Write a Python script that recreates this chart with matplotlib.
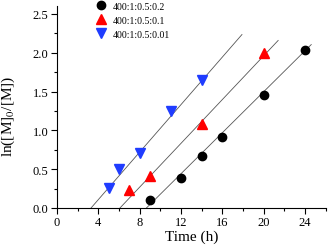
import numpy as np
import matplotlib
matplotlib.use("Agg")
import matplotlib.pyplot as plt
from matplotlib.ticker import MultipleLocator

plt.rcParams['font.family'] = ['Liberation Serif', 'DejaVu Serif']
plt.rcParams['mathtext.fontset'] = 'stix'

# data
labels = ['400:1:0.5:0.2', '400:1:0.5:0.1', '400:1:0.5:0.01']
t_black = [9, 12, 14, 16, 20, 24]
y_black = [0.10, 0.38, 0.67, 0.91, 1.45, 2.03]
t_red = [7, 9, 14, 20]
y_red = [0.23, 0.41, 1.08, 2.00]
t_blue = [5, 6, 8, 11, 14]
y_blue = [0.26, 0.50, 0.71, 1.25, 1.65]

# fitted lines (slope, intercept, x range)
fit_black = (0.132, -1.143, 8.66, 24.6)
fit_red = (0.141, -0.860, 6.10, 21.4)
fit_blue = (0.153, -0.505, 3.30, 17.9)

fig = plt.figure(figsize=(3.29, 2.53), dpi=100)
ax = fig.add_axes([0.173, 0.174, 0.817, 0.798])

for slope, icpt, x0, x1 in (fit_black, fit_red, fit_blue):
    xx = np.array([x0, x1])
    ax.plot(xx, slope * xx + icpt, color='#555555', lw=0.6, zorder=1)

ax.plot(t_black, y_black, 'o', color='black', ms=6, ls='none', label=labels[0], zorder=3)
ax.plot(t_red, y_red, '^', color='#ff0000', ms=7, ls='none', label=labels[1], zorder=3)
ax.plot(t_blue, y_blue, 'v', color='#1f3cff', ms=7, ls='none', label=labels[2], zorder=3)

ax.set_xlim(0, 26)
ax.set_ylim(0, 2.6)
ax.xaxis.set_minor_locator(MultipleLocator(2))
ax.yaxis.set_minor_locator(MultipleLocator(0.25))
ax.set_xticks(np.arange(0, 25, 4))
ax.set_yticks(np.arange(0, 2.51, 0.5))
ax.yaxis.set_major_formatter(plt.FuncFormatter(lambda v, p: '%.1f' % v))

ax.spines['top'].set_visible(False)
ax.spines['right'].set_visible(False)
ax.tick_params(which='major', direction='out', length=4, width=0.8, labelsize=9, pad=2)
ax.tick_params(which='minor', direction='out', length=2.5, width=0.8)

ax.set_xlabel('Time (h)', fontsize=11, labelpad=1)
ax.set_ylabel(r'ln([M]$_0$/[M])', fontsize=11)
ax.yaxis.set_label_coords(-0.15, 0.46)

ax.legend(loc='upper left', bbox_to_anchor=(0.13, 1.04), frameon=False,
          fontsize=7, handlelength=1.0, handletextpad=0.8, labelspacing=0.5,
          borderaxespad=0)

fig.savefig('out.png', dpi=100)
